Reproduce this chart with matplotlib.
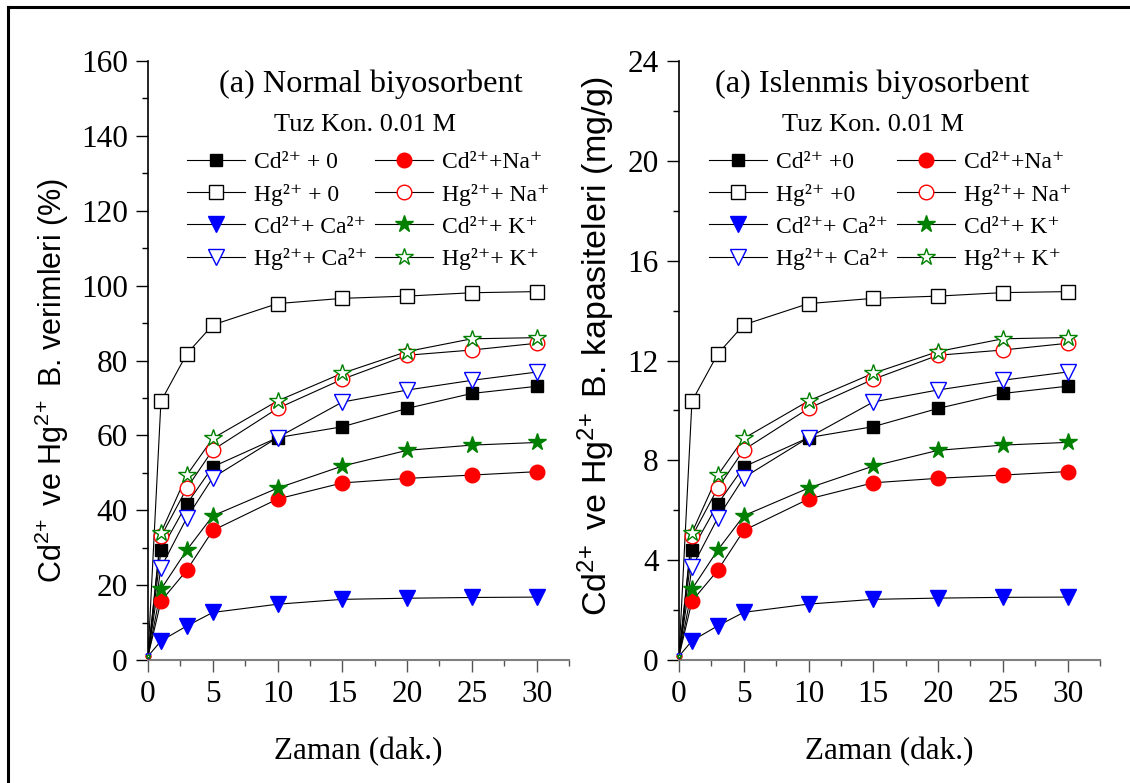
import matplotlib
matplotlib.use('Agg')
import matplotlib.pyplot as plt
from matplotlib.ticker import MultipleLocator
from matplotlib.lines import Line2D

plt.rcParams['font.family'] = ['Liberation Serif', 'DejaVu Serif']
plt.rcParams['mathtext.default'] = 'regular'

# Zeitpunkte (dak.)
zaman = [0, 1, 3, 5, 10, 15, 20, 25, 30]

# (a) Normal biyosorbent - verim (%)
n_cd0 = [1, 29.3, 41.7, 51.6, 59.4, 62.3, 67.2, 71.2, 73.1]
n_hg0 = [1, 69.1, 81.8, 89.5, 95.2, 96.6, 97.2, 98.1, 98.4]
n_cdna = [1, 15.7, 24.0, 34.6, 43.0, 47.3, 48.5, 49.4, 50.3]
n_hgna = [1, 33.0, 45.9, 56.1, 67.2, 75.0, 81.4, 82.8, 84.6]
n_cdca = [1, 5.1, 9.1, 12.7, 14.9, 16.2, 16.5, 16.7, 16.8]
n_cdk = [1, 18.9, 29.4, 38.5, 45.9, 51.8, 56.0, 57.4, 58.1]
n_hgca = [1, 24.7, 38.0, 48.7, 59.4, 68.9, 72.1, 74.7, 76.9]
n_hgk = [1, 34.0, 49.4, 59.2, 69.2, 76.6, 82.4, 85.8, 86.1]

# (a) Islenmis biyosorbent - kapasite (mg/g)
i_cd0 = [0.15, 4.40, 6.26, 7.74, 8.91, 9.35, 10.08, 10.68, 10.97]
i_hg0 = [0.15, 10.37, 12.27, 13.43, 14.28, 14.49, 14.58, 14.72, 14.76]
i_cdna = [0.15, 2.36, 3.60, 5.19, 6.45, 7.10, 7.28, 7.41, 7.55]
i_hgna = [0.15, 4.95, 6.89, 8.42, 10.08, 11.25, 12.21, 12.42, 12.69]
i_cdca = [0.15, 0.77, 1.37, 1.91, 2.24, 2.43, 2.48, 2.51, 2.52]
i_cdk = [0.15, 2.84, 4.41, 5.78, 6.89, 7.77, 8.40, 8.61, 8.72]
i_hgca = [0.15, 3.71, 5.70, 7.31, 8.91, 10.34, 10.82, 11.21, 11.54]
i_hgk = [0.15, 5.10, 7.41, 8.88, 10.38, 11.49, 12.36, 12.87, 12.92]

labels_n = ['Cd²⁺ + 0', 'Hg²⁺ + 0', 'Cd²⁺+Na⁺', 'Hg²⁺+ Na⁺',
            'Cd²⁺+ Ca²⁺', 'Cd²⁺+ K⁺', 'Hg²⁺+ Ca²⁺', 'Hg²⁺+ K⁺']
labels_i = ['Cd²⁺ +0', 'Hg²⁺ +0', 'Cd²⁺+Na⁺', 'Hg²⁺+ Na⁺',
            'Cd²⁺+ Ca²⁺', 'Cd²⁺+ K⁺', 'Hg²⁺+ Ca²⁺', 'Hg²⁺+ K⁺']

# marker, farbe, gefuellt, groesse
stile = [('s', 'black', True, 9), ('s', 'black', False, 10),
         ('o', 'red', True, 10.5), ('o', 'red', False, 10.5),
         ('v', 'blue', True, 12), ('*', 'green', True, 13),
         ('v', 'blue', False, 12), ('*', 'green', False, 13)]

fig = plt.figure(figsize=(11.3, 7.83), dpi=100)

# Rahmen (nur links und oben sichtbar)
fig.add_artist(Line2D([8 / 1130, 8 / 1130], [0, 1 - 7 / 783], transform=fig.transFigure,
                      color='black', lw=2.2))
fig.add_artist(Line2D([8 / 1130, 1], [1 - 7 / 783, 1 - 7 / 783], transform=fig.transFigure,
                      color='black', lw=2.2))


def panel(ax, serien, labels, ymax, ystep, title, title_x, sub_x,
          ylabel, ylab_size, ylab_pos, leg_x):
    handles = []
    for werte, lab, (m, c, filled, ms) in zip(serien, labels, stile):
        fc = c if filled else 'white'
        ax.plot(zaman, werte, '-', color='black', lw=0.8, zorder=2)
        h, = ax.plot(zaman[1:], werte[1:], linestyle='none', marker=m, ms=ms,
                     mfc=fc, mec=c, mew=1.0, zorder=3)
        ax.plot(zaman[:1], werte[:1], linestyle='none', marker=m, ms=3.5,
                mfc=fc, mec=c, mew=0.8, zorder=3, clip_on=False)
        handles.append((h, lab))
    ax.set_xlim(0, 32.5)
    ax.set_ylim(0, ymax)
    ax.xaxis.set_major_locator(MultipleLocator(5))
    ax.xaxis.set_minor_locator(MultipleLocator(2.5))
    ax.yaxis.set_major_locator(MultipleLocator(ystep))
    ax.yaxis.set_minor_locator(MultipleLocator(ystep / 2))
    ax.spines['top'].set_visible(False)
    ax.spines['right'].set_visible(False)
    ax.spines['bottom'].set_color('#808080')
    ax.spines['bottom'].set_linewidth(1.5)
    ax.spines['left'].set_linewidth(1.2)
    ax.tick_params(axis='both', which='major', direction='out', length=8.5,
                   width=1.0, labelsize=22.5, pad=6)
    ax.tick_params(axis='both', which='minor', direction='out', length=4, width=1.0)
    ax.tick_params(axis='x', which='both', color='#555555')
    ax.set_xlabel('Zaman (dak.)', fontsize=22.5, labelpad=20)
    ax.set_ylabel(ylabel, fontsize=ylab_size, family=['Liberation Sans', 'DejaVu Sans'])
    ax.yaxis.set_label_coords(*ylab_pos)
    ax.text(title_x, 0.962, title, transform=ax.transAxes, fontsize=23.3,
            ha='center', va='center')
    ax.text(sub_x, 0.893, 'Tuz Kon. 0.01 M', transform=ax.transAxes, fontsize=19,
            ha='center', va='center')
    # Legende: erst Spalte 1, dann Spalte 2
    order = [0, 1, 4, 6, 2, 3, 5, 7]
    leg = ax.legend([handles[k][0] for k in order], [handles[k][1] for k in order],
                    ncol=2, loc='upper left', bbox_to_anchor=(leg_x, 0.849),
                    frameon=False, fontsize=17, handlelength=2.45, handletextpad=0.38,
                    columnspacing=0.34, labelspacing=0.45, borderpad=0, borderaxespad=0,
                    numpoints=1)
    for line in leg.get_lines():
        line.set_linestyle('-')
        line.set_color('black')
        line.set_linewidth(0.8)


ax1 = fig.add_axes([148 / 1130, 1 - 660 / 783, 421 / 1130, 599 / 783])
ax2 = fig.add_axes([679 / 1130, 1 - 660 / 783, 421 / 1130, 599 / 783])

panel(ax1, [n_cd0, n_hg0, n_cdna, n_hgna, n_cdca, n_cdk, n_hgca, n_hgk], labels_n,
      160, 20, '(a) Normal biyosorbent', 0.53, 0.516,
      'Cd$^{2\\!+}$ ve Hg$^{2\\!+}$ B. verimleri (%)', 22, (-0.183, 0.466), 0.092)
panel(ax2, [i_cd0, i_hg0, i_cdna, i_hgna, i_cdca, i_cdk, i_hgca, i_hgk], labels_i,
      24, 4, '(a) Islenmis biyosorbent', 0.458, 0.46,
      'Cd$^{2\\!+}$ ve Hg$^{2\\!+}$ B. kapasiteleri (mg/g)', 24.5, (-0.147, 0.524), 0.071)

fig.savefig('out.png', dpi=100)
